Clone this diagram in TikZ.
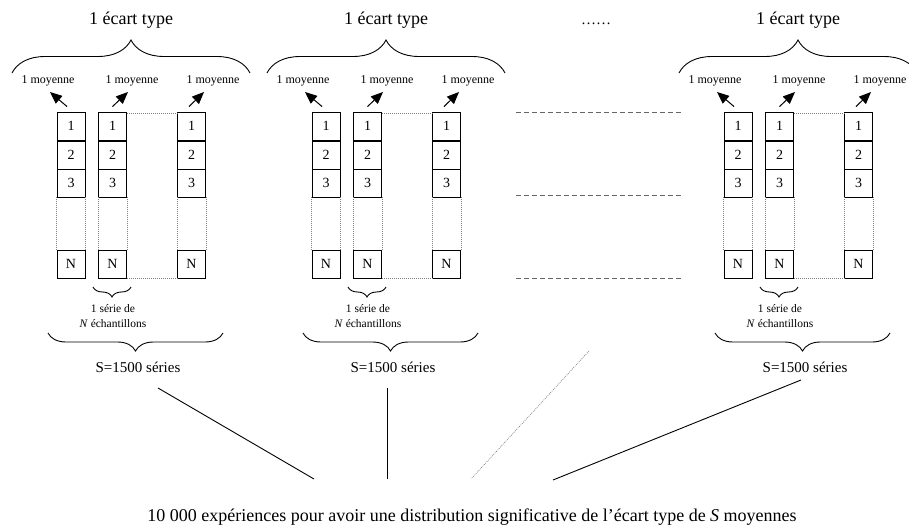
\documentclass[tikz,border=0pt]{standalone}
\usepackage{fontspec}
\setmainfont{Liberation Serif}
\usetikzlibrary{arrows.meta,decorations.pathreplacing,calc}

\tikzset{
  cell/.style={draw, line width=0.9pt, minimum width=28pt, minimum height=28pt,
    inner sep=0pt, font=\fontsize{14}{14}\selectfont},
  moy/.style={inner sep=0pt, font=\fontsize{12}{12}\selectfont},
  titre/.style={inner sep=0pt, font=\fontsize{18}{18}\selectfont},
  serie/.style={inner sep=0pt, align=center, font=\fontsize{11.5}{15}\selectfont},
  total/.style={inner sep=0pt, font=\fontsize{15}{15}\selectfont},
  pointille/.style={gray, line width=0.6pt, dash pattern=on 1pt off 1pt},
  tirets/.style={gray!80!black, line width=0.9pt, dash pattern=on 5pt off 3pt},
  accolade/.style={decorate, line width=0.9pt, decoration={brace, amplitude=#1}},
}

\begin{document}
\begin{tikzpicture}[x=1pt, y=-1pt, >={Triangle[length=12pt, width=10pt]}]
  \useasboundingbox (0,0) rectangle (909,527);

  % Trois groupes de S séries (le groupe du milieu est sous-entendu par les tirets)
  \foreach \g/\dx in {a/0, b/255, c/667} {
    \begin{scope}[xshift=\dx pt]
      % Colonnes d'échantillons 1, 2, 3, ..., N
      \foreach \c/\cx/\mx/\tx/\sx in {1/71/48/50/-4, 2/112.5/132/128/0, 3/191.5/213/204/-2.5} {
        \node[cell] (\g\c-1) at (\cx,126) {1};
        \node[cell] (\g\c-2) at (\cx,155) {2};
        \node[cell] (\g\c-3) at (\cx,183) {3};
        \node[cell] (\g\c-N) at (\cx,264) {N};
        \draw[pointille] (\g\c-3.south west) -- (\g\c-N.north west);
        \draw[pointille] (\g\c-3.south east) -- (\g\c-N.north east);

        % Moyenne de chaque série
        \node[moy] (\g\c-m) at (\mx,81) {1 moyenne};
        \coordinate (\g\c-t) at (\tx,92);
        \draw[->, line width=1pt] ($(\g\c-1.north)+(\sx,-5)$) -- (\g\c-t);
      }

      % Séries intermédiaires
      \draw[pointille] ($(\g2-1.north east)+(0,2)$) -- ($(\g3-1.north west)+(0,2)$);
      \draw[pointille] (\g2-N.south east) -- (\g3-N.south west);

      % Accolades
      \draw[accolade=33pt] (12,73) -- (250,73);
      \node[titre] (\g-e) at (131,20) {1 écart type};

      \draw[accolade=10pt] (131,287) -- (93,287);
      \node[serie] (\g-s) at (113,316) {1 série de\\ \textit{N} échantillons};

      \draw[accolade=18pt] (223,333) -- (48,333);
      \node[total] (\g-S) at (138,367) {S=1500 séries};
    \end{scope}
  }

  % Points de suspension entre les groupes
  \node[inner sep=0pt, anchor=base, font=\fontsize{15}{15}\selectfont] (susp) at (596,25) {……};
  \foreach \y in {112, 195, 278} {
    \draw[tirets] (516,\y) -- (682,\y);
  }

  % Convergence vers les 10 000 expériences
  \node[inner sep=0pt, font=\fontsize{18}{18}\selectfont] (exp) at (472,517)
    {10 000 expériences pour avoir une distribution significative de l’écart type de \textit{S} moyennes};
  \coordinate (h1) at (158,388);
  \coordinate (h2) at (387,388);
  \coordinate (h3) at (589,351);
  \coordinate (h4) at (801,380);
  \coordinate (e1) at (314,479);
  \coordinate (e2) at (387,479);
  \coordinate (e3) at (471,479);
  \coordinate (e4) at (553,480);
  \draw[line width=0.9pt] (h1) -- (e1);
  \draw[line width=0.9pt] (h2) -- (e2);
  \draw[pointille] (h3) -- (e3);
  \draw[line width=0.9pt] (h4) -- (e4);
\end{tikzpicture}
\end{document}
